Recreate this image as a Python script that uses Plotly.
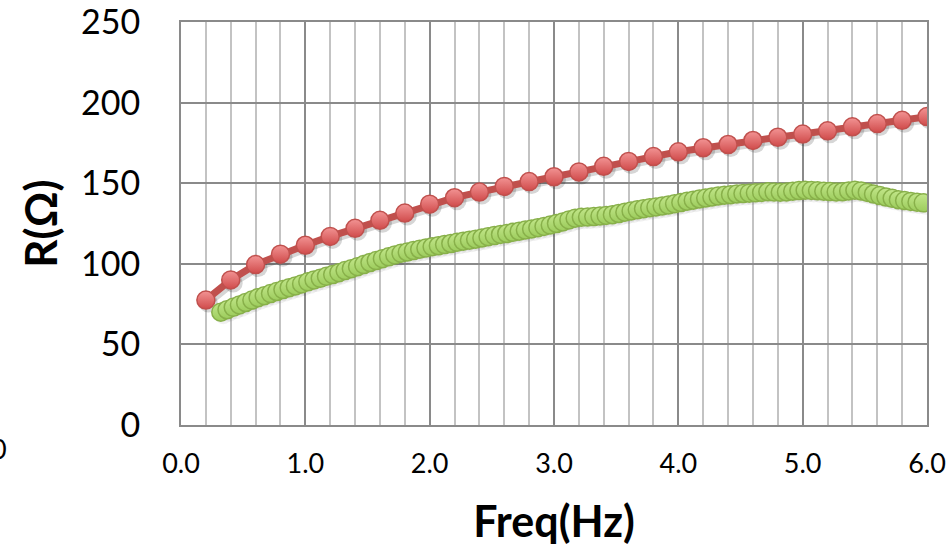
import plotly.graph_objects as go

# ---- data ----
freq_red = [0.2, 0.4, 0.6, 0.8, 1.0, 1.2, 1.4, 1.6, 1.8, 2.0,
            2.2, 2.4, 2.6, 2.8, 3.0, 3.2, 3.4, 3.6, 3.8, 4.0,
            4.2, 4.4, 4.6, 4.8, 5.0, 5.2, 5.4, 5.6, 5.8, 6.0]
r_red = [77.5, 90.0, 99.5, 106.0, 111.5, 117.0, 122.0, 127.0, 131.5, 137.0,
         141.0, 144.5, 148.0, 151.0, 154.0, 157.0, 160.5, 163.5, 166.5, 169.5,
         172.0, 174.0, 176.5, 178.5, 180.5, 182.5, 185.0, 187.0, 189.0, 191.3]

freq_green = [0.32, 0.37, 0.42, 0.47, 0.52, 0.57, 0.62, 0.67, 0.72, 0.77,
              0.82, 0.87, 0.92, 0.97, 1.02, 1.07, 1.12, 1.17, 1.22, 1.27,
              1.32, 1.37, 1.42, 1.47, 1.52, 1.57, 1.62, 1.67, 1.72, 1.77,
              1.82, 1.87, 1.92, 1.97, 2.02, 2.07, 2.12, 2.17, 2.22, 2.27,
              2.32, 2.37, 2.42, 2.47, 2.52, 2.57, 2.62, 2.67, 2.72, 2.77,
              2.82, 2.87, 2.92, 2.97, 3.02, 3.07, 3.12, 3.17, 3.22, 3.27,
              3.32, 3.37, 3.42, 3.47, 3.52, 3.57, 3.62, 3.67, 3.72, 3.77,
              3.82, 3.87, 3.92, 3.97, 4.02, 4.07, 4.12, 4.17, 4.22, 4.27,
              4.32, 4.37, 4.42, 4.47, 4.52, 4.57, 4.62, 4.67, 4.72, 4.77,
              4.82, 4.87, 4.92, 4.97, 5.02, 5.07, 5.12, 5.17, 5.22, 5.27,
              5.32, 5.37, 5.42, 5.47, 5.52, 5.57, 5.62, 5.67, 5.72, 5.77,
              5.82, 5.87, 5.92, 5.97]
r_green = [70.0, 71.5, 73.0, 74.5, 76.0, 77.5, 79.0, 80.2, 81.5, 82.8,
           84.0, 85.2, 86.3, 87.5, 88.8, 90.0, 91.0, 92.2, 93.3, 94.5,
           95.8, 97.0, 98.2, 99.5, 100.8, 102.0, 103.2, 104.3, 105.5, 106.5,
           107.3, 108.2, 109.0, 109.8, 110.6, 111.2, 111.9, 112.6, 113.3, 114.0,
           114.6, 115.3, 116.0, 116.8, 117.5, 118.2, 118.8, 119.5, 120.2, 120.9,
           121.6, 122.4, 123.2, 124.0, 125.0, 126.0, 127.2, 128.3, 128.8, 129.0,
           129.3, 129.6, 130.0, 130.5, 131.2, 132.0, 132.8, 133.5, 134.2, 134.8,
           135.3, 135.8, 136.4, 137.2, 138.0, 138.8, 139.5, 140.2, 140.8, 141.4,
           142.0, 142.5, 142.9, 143.3, 143.6, 143.8, 144.0, 144.3, 144.7, 144.5,
           144.4, 144.6, 145.0, 145.4, 145.6, 145.5, 145.3, 145.0, 144.8, 144.6,
           144.7, 145.2, 145.6, 145.2, 144.3, 143.3, 142.3, 141.4, 140.6, 139.8,
           139.2, 138.7, 138.2, 137.8]

x_ticks = [0, 1, 2, 3, 4, 5, 6]
x_labels = ["0.0", "1.0", "2.0", "3.0", "4.0", "5.0", "6.0"]
y_ticks = [0, 50, 100, 150, 200, 250]
y_labels = ["0", "50", "100", "150", "200", "250"]

FONT = "Lato"
X_RANGE = [0, 6]
Y_RANGE = [0, 250]
PLOT_W, PLOT_H = 746, 403          # plot area in pixels
SHADOW_DX, SHADOW_DY = 2.5, 3.0    # drop-shadow offset in pixels

fig = go.Figure()

# invisible anchor trace so the main (gridded, labelled) axes are drawn
fig.add_trace(go.Scatter(x=[X_RANGE[0]], y=[Y_RANGE[0]], mode="markers",
                         marker=dict(opacity=0), hoverinfo="skip", showlegend=False))

# drop shadows (drawn on a slightly shifted, invisible overlay axis pair)
sx = SHADOW_DX / PLOT_W * (X_RANGE[1] - X_RANGE[0])
sy = SHADOW_DY / PLOT_H * (Y_RANGE[1] - Y_RANGE[0])
shadow = "rgba(0,0,0,0.16)"
fig.add_trace(go.Scatter(x=freq_red, y=r_red, mode="lines+markers",
                         line=dict(color=shadow, width=7),
                         marker=dict(size=19, color=shadow),
                         xaxis="x2", yaxis="y2", hoverinfo="skip", showlegend=False))
fig.add_trace(go.Scatter(x=freq_green, y=r_green, mode="markers",
                         marker=dict(size=18, color="rgba(0,0,0,0.06)"),
                         xaxis="x2", yaxis="y2", hoverinfo="skip", showlegend=False))

# real series
fig.add_trace(go.Scatter(
    x=freq_red, y=r_red, mode="lines+markers", name="R1",
    line=dict(color="#c0504d", width=7),
    marker=dict(size=18, color="#f29393",
                gradient=dict(type="vertical", color="#d04b4b"),
                line=dict(color="#c0504d", width=1.5)),
    xaxis="x3", yaxis="y3", showlegend=False))

fig.add_trace(go.Scatter(
    x=freq_green, y=r_green, mode="lines+markers", name="R2",
    line=dict(color="#9bbb59", width=7),
    marker=dict(size=18, color="#c2e68a",
                gradient=dict(type="vertical", color="#9ccc5c"),
                line=dict(color="#88b04a", width=1.5)),
    xaxis="x3", yaxis="y3", showlegend=False))

fig.update_layout(
    width=951, height=549,
    margin=dict(l=181, r=24, t=22, b=124),
    paper_bgcolor="white", plot_bgcolor="white",
    font=dict(family=FONT, color="black"),
    showlegend=False,
    xaxis=dict(
        range=X_RANGE, tickvals=x_ticks, ticktext=x_labels, automargin=False,
        tickfont=dict(size=27, family=FONT), ticks="", ticklabelstandoff=14,
        ticklabeloverflow="allow",
        showgrid=True, gridcolor="#8a8a8a", gridwidth=1.5,
        minor=dict(dtick=0.2, tick0=0, showgrid=True, gridcolor="#c3c3c3", gridwidth=1.5),
        showline=True, linecolor="#8a8a8a", linewidth=2, mirror=True,
        zeroline=False,
        title=dict(text="<b>Freq(Hz)</b>", font=dict(size=43, family=FONT), standoff=28),
    ),
    yaxis=dict(
        range=Y_RANGE, tickvals=y_ticks, ticktext=y_labels, automargin=False,
        tickfont=dict(size=34, family=FONT), ticks="", ticklabelstandoff=32,
        ticklabeloverflow="allow",
        showgrid=True, gridcolor="#8a8a8a", gridwidth=1.5,
        showline=True, linecolor="#8a8a8a", linewidth=2, mirror=True,
        zeroline=False,
        title=dict(text="<b>R(Ω)</b>", font=dict(size=44, family=FONT), standoff=10),
    ),
    xaxis2=dict(range=[X_RANGE[0] - sx, X_RANGE[1] - sx], overlaying="x", visible=False),
    yaxis2=dict(range=[Y_RANGE[0] + sy, Y_RANGE[1] + sy], overlaying="y", visible=False),
    xaxis3=dict(range=X_RANGE, overlaying="x", visible=False),
    yaxis3=dict(range=Y_RANGE, overlaying="y", visible=False),
)

# clipped remnant of a neighbouring chart's tick label at the far left
fig.add_annotation(text="0", xref="paper", yref="paper",
                   x=(9 - 181) / PLOT_W, y=(425 - 449) / PLOT_H,
                   xanchor="right", yanchor="middle", showarrow=False,
                   font=dict(size=27, family=FONT, color="black"))

fig.write_html("out.html")
